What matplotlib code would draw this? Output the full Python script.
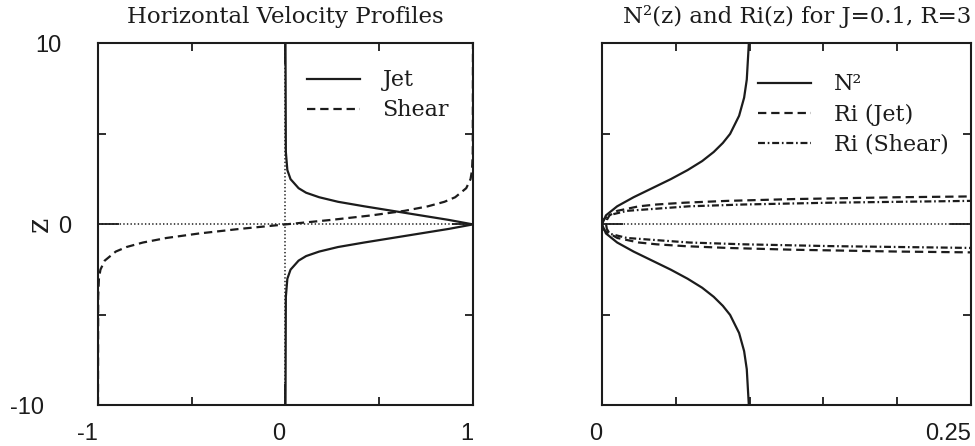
import matplotlib
matplotlib.use("Agg")
import matplotlib.pyplot as plt
from matplotlib.ticker import FixedLocator, NullFormatter

plt.rcParams['lines.scale_dashes'] = False

# ---- data ----
# left panel : horizontal velocity profiles
z_jet = [-10, -4, -3, -2.5, -2, -1.75, -1.5, -1.25, -1, -0.75, -0.5, -0.25, 0,
         0.25, 0.5, 0.75, 1, 1.25, 1.5, 1.75, 2, 2.5, 3, 4, 10]
u_jet = [0, 0.002, 0.01, 0.027, 0.07, 0.11, 0.18, 0.28, 0.42, 0.57, 0.72, 0.87, 1.0,
         0.87, 0.72, 0.57, 0.42, 0.28, 0.18, 0.11, 0.07, 0.027, 0.01, 0.002, 0]

z_shear = [-10, -4, -3, -2.5, -2, -1.5, -1.25, -1, -0.75, -0.5, -0.25, 0,
           0.25, 0.5, 0.75, 1, 1.25, 1.5, 2, 2.5, 3, 4, 10]
u_shear = [-1, -0.999, -0.995, -0.987, -0.964, -0.905, -0.848, -0.76, -0.635, -0.46, -0.245, 0,
           0.245, 0.46, 0.635, 0.76, 0.848, 0.905, 0.964, 0.987, 0.995, 0.999, 1]

# right panel : N^2(z) and Ri(z), J=0.1, R=3
z_n2 = [-10, -8, -7, -6, -5, -4.5, -4, -3.5, -3, -2.5, -2, -1.5, -1, -0.5, 0,
        0.5, 1, 1.5, 2, 2.5, 3, 3.5, 4, 4.5, 5, 6, 7, 8, 10]
n2 = [0.0995, 0.0981, 0.0963, 0.0929, 0.0868, 0.0819, 0.0757, 0.0679, 0.058, 0.0466, 0.034, 0.0214, 0.0103, 0.0027, 0,
      0.0027, 0.0103, 0.0214, 0.034, 0.0466, 0.058, 0.0679, 0.0757, 0.0819, 0.0868, 0.0929, 0.0963, 0.0981, 0.0995]

z_ri_jet = [-1.6, -1.5, -1.4, -1.3, -1.2, -1.1, -1, -0.75, -0.5, -0.25, 0,
            0.25, 0.5, 0.75, 1, 1.1, 1.2, 1.3, 1.4, 1.5, 1.6]
ri_jet = [0.31, 0.2, 0.13, 0.085, 0.056, 0.037, 0.025, 0.0104, 0.0051, 0.0033, 0.0028,
          0.0033, 0.0051, 0.0104, 0.025, 0.037, 0.056, 0.085, 0.13, 0.2, 0.31]

z_ri_shear = [-1.4, -1.3, -1.2, -1.1, -1, -0.75, -0.5, -0.25, 0,
              0.25, 0.5, 0.75, 1, 1.1, 1.2, 1.3, 1.4]
ri_shear = [0.41, 0.25, 0.155, 0.096, 0.059, 0.017, 0.0044, 0.0008, 0,
            0.0008, 0.0044, 0.017, 0.059, 0.096, 0.155, 0.25, 0.41]

ink = '#1c1c1c'
serif = 'DejaVu Serif'
sans = 'Liberation Sans'
dashed = (0, (6, 3.5))
dashdot = (0, (5, 2, 1.2, 2))
dotted = (0, (1, 1.6))
lw = 1.6

fig = plt.figure(figsize=(9.75, 4.46), dpi=100)
ax1 = fig.add_axes([0.1005, 0.091, 0.3846, 0.8117])
ax2 = fig.add_axes([0.6174, 0.091, 0.3785, 0.8117])

def style(ax, xminor):
    ax.set_ylim(-10, 10)
    ax.xaxis.set_minor_locator(FixedLocator(xminor))
    ax.yaxis.set_minor_locator(FixedLocator([-5, 5]))
    ax.xaxis.set_minor_formatter(NullFormatter())
    ax.yaxis.set_minor_formatter(NullFormatter())
    ax.tick_params(which='both', direction='in', top=True, right=True, width=1.3, color=ink)
    ax.tick_params(which='major', length=15)
    ax.tick_params(which='minor', length=6)
    ax.tick_params(axis='x', labelsize=17, pad=13, labelcolor=ink)
    ax.tick_params(axis='y', labelsize=17, labelcolor=ink)
    for s in ax.spines.values():
        s.set_linewidth(1.5)
        s.set_color(ink)
    for lab in ax.get_xticklabels():
        lab.set_family(sans)
        lab.set_ha('right')
    for lab in ax.get_yticklabels():
        lab.set_family(sans)
    ax.axhline(0, color=ink, lw=1.1, ls=dotted)

def legend(ax, x, y):
    ax.legend(loc='upper left', bbox_to_anchor=(x, y), frameon=False,
              prop={'family': serif, 'size': 16}, handlelength=2.4, handletextpad=1.0,
              labelspacing=0.36, borderpad=0, borderaxespad=0, labelcolor=ink)

# left panel
ax1.set_xlim(-1, 1)
ax1.set_xticks([-1, 0, 1])
ax1.set_xticklabels(['-1', '0', '1'])
ax1.set_yticks([-10, 0, 10])
ax1.set_yticklabels(['-10', '0', '10'])
style(ax1, [-0.5, 0.5])
ax1.axvline(0, color=ink, lw=1.1, ls=dotted)
ax1.plot(u_jet, z_jet, color=ink, lw=lw, ls='-', label='Jet')
ax1.plot(u_shear, z_shear, color=ink, lw=lw, ls=dashed, label='Shear')
ax1.set_title('Horizontal Velocity Profiles', family=serif, fontsize=16.5, color=ink, pad=15)
ax1.set_ylabel('z', family=serif, fontsize=21, color=ink)
ax1.yaxis.set_label_coords(-0.118, 0.5)
for tick, p in zip(ax1.yaxis.get_major_ticks(), [39, 19, 26]):
    tick.set_pad(p)
legend(ax1, 0.557, 0.928)

# right panel
ax2.set_xlim(0, 0.25)
ax2.set_xticks([0, 0.25])
ax2.set_xticklabels(['0', '0.25'])
ax2.set_yticks([-10, 0, 10])
ax2.set_yticklabels(['', '', ''])
style(ax2, [0.05, 0.1, 0.15, 0.2])
ax2.plot(n2, z_n2, color=ink, lw=lw, ls='-', label='N²')
ax2.plot(ri_jet, z_ri_jet, color=ink, lw=lw, ls=dashed, label='Ri (Jet)')
ax2.plot(ri_shear, z_ri_shear, color=ink, lw=lw, ls=dashdot, label='Ri (Shear)')
ax2.set_title('N²(z) and Ri(z) for J=0.1, R=3', family=serif, fontsize=16.5, color=ink,
              pad=15, loc='right')
legend(ax2, 0.423, 0.917)

fig.savefig('out.png', dpi=100)
